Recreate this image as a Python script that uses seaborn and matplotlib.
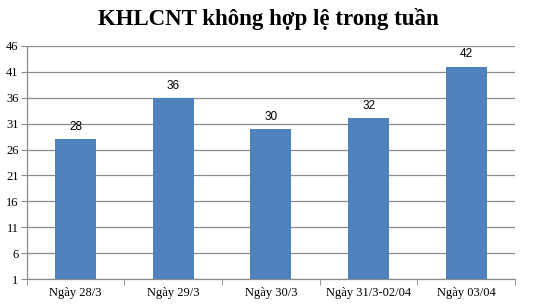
import matplotlib
matplotlib.use("Agg")
import matplotlib.pyplot as plt
import seaborn as sns
import pandas as pd
import numpy as np

categories = ["Ngày 28/3", "Ngày 29/3", "Ngày 30/3", "Ngày 31/3-02/04", "Ngày 03/04"]
values = [28, 36, 30, 32, 42]
yticks = [1, 6, 11, 16, 21, 26, 31, 36, 41, 46]
title = "KHLCNT không hợp lệ trong tuần"

sns.set_style("white")
plt.rcParams['font.family'] = ['Liberation Serif', 'DejaVu Serif']
plt.rcParams['text.color'] = 'black'
plt.rcParams['xtick.color'] = 'black'
plt.rcParams['ytick.color'] = 'black'

df = pd.DataFrame({"cat": categories, "val": values})
fig = plt.figure(figsize=(5.36, 3.04), dpi=100)
ax = fig.add_axes([0.050, 0.082, 0.911, 0.767])
sns.barplot(data=df, x="cat", y="val", color="#4F81BD", saturation=1, width=0.42,
            linewidth=0, ax=ax, zorder=3)
ax.set_ylim(1, 46)
ax.set_xlim(-0.5, len(categories) - 0.5)
ax.set_yticks(yticks)
ax.yaxis.grid(True, color="#8C8C8C", linewidth=0.9, zorder=0)
ax.set_axisbelow(True)
for s in ["top", "right"]:
    ax.spines[s].set_visible(False)
for s in ["left", "bottom"]:
    ax.spines[s].set_color("#8C8C8C")
    ax.spines[s].set_linewidth(0.9)
ax.set_xlabel("")
ax.set_ylabel("")
ax.tick_params(axis="y", length=4, color="#8C8C8C", labelcolor="black", labelsize=9, pad=2, direction="out", left=True)
ax.tick_params(axis="x", which="major", length=0, labelcolor="black", labelsize=9, pad=6)
ax.set_xticks(np.arange(-0.5, len(categories), 1.0), minor=True)
ax.tick_params(axis="x", which="minor", length=4, color="#8C8C8C", bottom=True, direction="out")
for i, v in enumerate(values):
    ax.text(i, v + 1.2, str(v), ha="center", va="bottom", fontsize=8.5, color="black",
            family=["Liberation Sans", "DejaVu Sans"])
fig.suptitle(title, x=0.5, y=0.975, fontsize=16.5, fontweight="bold", va="top", color="black")
fig.savefig("out.png", dpi=100)
